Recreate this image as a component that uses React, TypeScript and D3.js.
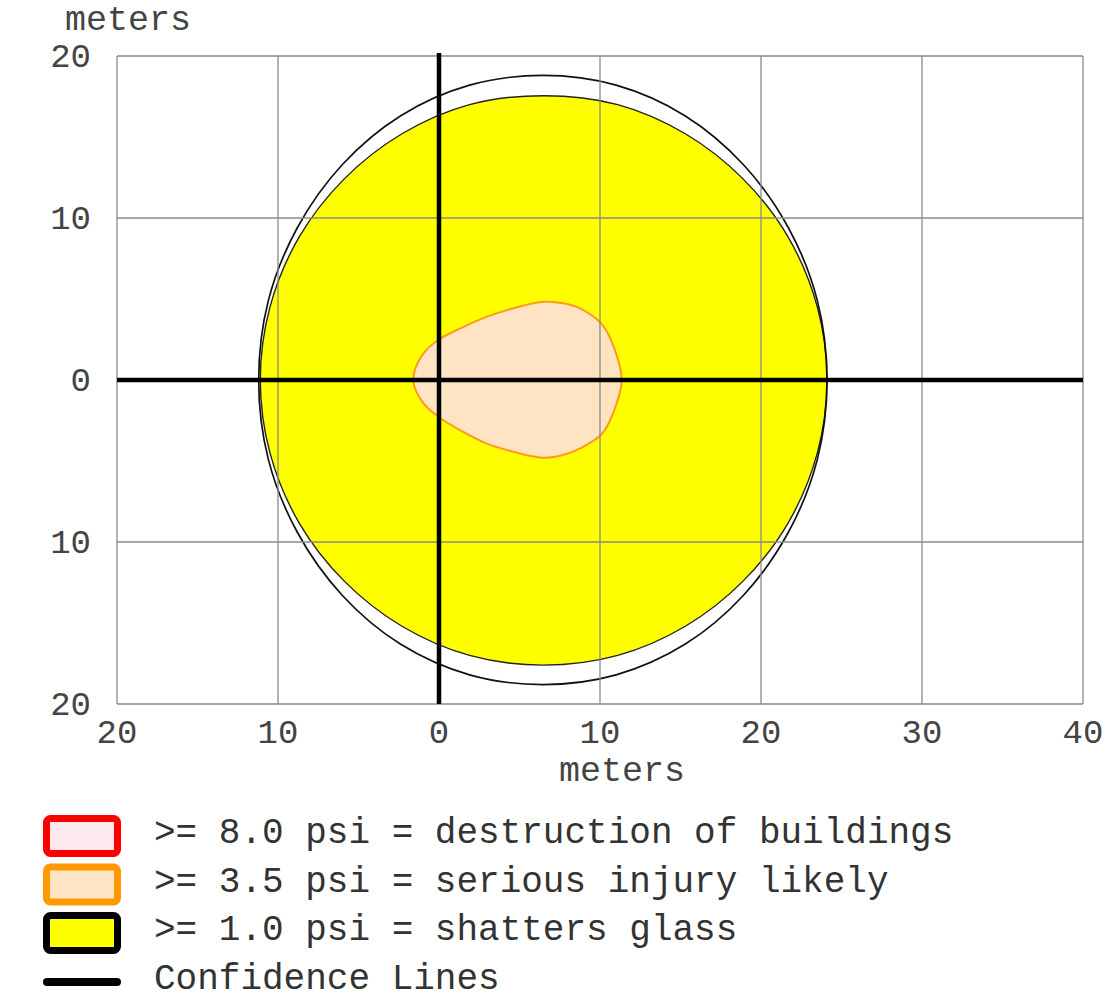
import React from "react";
import * as d3 from "d3";

// ---- data (meters) ----
const xTicks = [-20, -10, 0, 10, 20, 30, 40];
const yTicks = [-20, -10, 0, 10, 20];

// >= 1.0 psi contour (shatters glass)
const glassContour: [number, number][] = [
  [24.1, 0], [23.5, 4.5], [21.7, 8.8], [18.9, 12.4], [15.3, 15.2], [11.1, 17.0], [6.5, 17.55],
  [1.9, 17.0], [-2.3, 15.2], [-5.9, 12.4], [-8.7, 8.8], [-10.5, 4.5], [-11.1, 0],
  [-10.5, -4.5], [-8.7, -8.8], [-5.9, -12.4], [-2.3, -15.2], [1.9, -17.0], [6.5, -17.6],
  [11.1, -17.0], [15.3, -15.2], [18.9, -12.4], [21.7, -8.8], [23.5, -4.5],
];

// >= 3.5 psi contour (serious injury likely)
const injuryContour: [number, number][] = [
  [-1.6, 0], [-1.0, 1.6], [0, 2.5], [1.4, 3.22], [2.9, 3.88], [4.7, 4.45], [6.5, 4.83],
  [7.8, 4.72], [8.8, 4.4], [10.15, 3.4], [10.87, 2.0], [11.35, 0], [10.87, -1.9],
  [10.1, -3.35], [8.8, -4.2], [7.8, -4.6], [6.5, -4.8], [4.7, -4.45], [2.9, -3.9],
  [1.4, -3.15], [0, -2.3], [-1.0, -1.4],
];

// confidence line
const confidenceLine: [number, number][] = [
  [24.1, 0], [23.5, 4.9], [21.7, 9.4], [18.9, 13.3], [15.3, 16.3], [11.0, 18.2], [6.45, 18.8],
  [1.9, 18.2], [-2.4, 16.3], [-6.0, 13.3], [-8.8, 9.4], [-10.6, 4.9], [-11.2, 0],
  [-10.6, -4.9], [-8.8, -9.4], [-6.0, -13.3], [-2.4, -16.3], [1.9, -18.2], [6.45, -18.8],
  [11.0, -18.2], [15.3, -16.3], [18.9, -13.3], [21.7, -9.4], [23.5, -4.9],
];

const legendLabels = [
  ">= 8.0 psi = destruction of buildings",
  ">= 3.5 psi = serious injury likely",
  ">= 1.0 psi = shatters glass",
  "Confidence Lines",
];
const legendStroke = ["#ff0000", "#ff9900", "#000000"];
const legendFill = ["#fde8ee", "#ffe4c4", "#ffff00"];

const FONT = "'Courier New', 'Liberation Mono', monospace";

export default function App() {
  const x = d3.scaleLinear().domain([-20, 40]).range([117, 1083]);
  const y = d3.scaleLinear().domain([-20, 20]).range([704, 56]);
  const line = d3
    .line<[number, number]>()
    .x((d) => x(d[0]))
    .y((d) => y(d[1]))
    .curve(d3.curveCatmullRomClosed.alpha(0.5));

  const gridColor = "#8a8a8a";
  const tickColor = "#444";

  return (
    <svg
      width={1110}
      height={998}
      style={{ position: "absolute", left: 0, top: 0, background: "#fff" }}
    >
      <rect x={0} y={0} width={1110} height={998} fill="#fff" />
      {/* contours */}
      <path d={line(glassContour) || ""} fill="#ffff00" stroke="#222" strokeWidth={1.4} />
      <path d={line(injuryContour) || ""} fill="#ffe4c4" stroke="#ff9a1a" strokeWidth={2} />
      <path d={line(confidenceLine) || ""} fill="none" stroke="#111" strokeWidth={1.7} />

      {/* grid */}
      {xTicks.map((t) => (
        <line key={"gx" + t} x1={x(t)} x2={x(t)} y1={y(20)} y2={y(-20)} stroke={gridColor} strokeWidth={1.3} />
      ))}
      {yTicks.map((t) => (
        <line key={"gy" + t} x1={x(-20)} x2={x(40)} y1={y(t)} y2={y(t)} stroke={gridColor} strokeWidth={1.3} />
      ))}

      {/* zero axes */}
      <line x1={x(-20)} x2={x(40)} y1={y(0)} y2={y(0)} stroke="#000" strokeWidth={4.5} />
      <line x1={x(0)} x2={x(0)} y1={y(20) - 3} y2={y(-20)} stroke="#000" strokeWidth={4.5} />

      {/* tick labels */}
      {xTicks.map((t) => (
        <text
          key={"tx" + t}
          x={x(t)}
          y={743}
          textAnchor="middle"
          fontFamily={FONT}
          fontSize={34}
          fill={tickColor}
        >
          {Math.abs(t)}
        </text>
      ))}
      {yTicks.map((t) => (
        <text
          key={"ty" + t}
          x={91}
          y={y(t) + 11}
          textAnchor="end"
          fontFamily={FONT}
          fontSize={34}
          fill={tickColor}
        >
          {Math.abs(t)}
        </text>
      ))}

      {/* axis titles */}
      <text x={128} y={30} textAnchor="middle" fontFamily={FONT} fontSize={35} fill={tickColor}>
        meters
      </text>
      <text x={622} y={781} textAnchor="middle" fontFamily={FONT} fontSize={35} fill={tickColor}>
        meters
      </text>

      {/* legend */}
      {legendStroke.map((c, i) => (
        <rect
          key={"lb" + i}
          x={46.5}
          y={818.5 + i * 48.5}
          width={71}
          height={35}
          rx={4}
          fill={legendFill[i]}
          stroke={c}
          strokeWidth={7}
        />
      ))}
      <line x1={47} x2={117} y1={982} y2={982} stroke="#000" strokeWidth={8} strokeLinecap="round" />
      {legendLabels.map((l, i) => (
        <text
          key={"lt" + i}
          x={154}
          y={843 + i * 48.5}
          fontFamily={FONT}
          fontSize={36}
          fill="#333"
          style={{ whiteSpace: "pre" }}
        >
          {l}
        </text>
      ))}
    </svg>
  );
}
